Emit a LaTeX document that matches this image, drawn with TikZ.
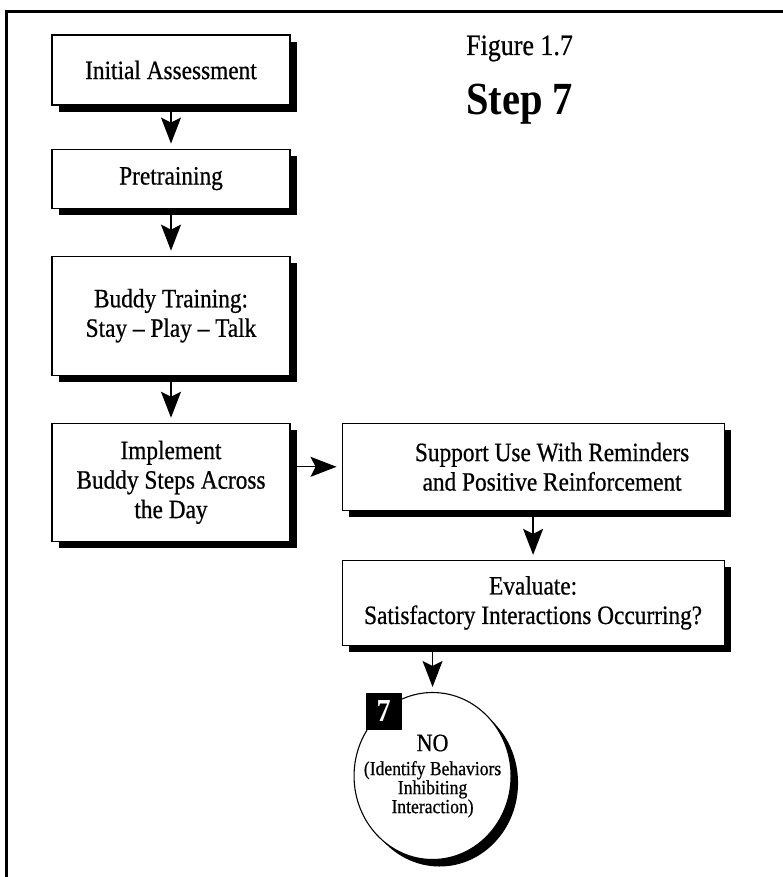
\documentclass[tikz,border=0pt]{standalone}
\usepackage{fontspec}
\setmainfont{Liberation Serif}[FakeStretch=0.88, UprightFeatures={FakeBold=0.6}]
\usepackage{tikz}
\usetikzlibrary{shapes.geometric, arrows.meta, positioning, shadows}
\tikzstyle{process} = [rectangle, minimum width=238pt, text centered, align=center, draw=black, line width=1.1pt, fill=white, drop shadow={shadow xshift=7pt, shadow yshift=-7pt, fill=black, opacity=1}, font=\fontsize{26.5}{29.5}\selectfont]
\tikzstyle{wide} = [process, minimum width=382pt]
\tikzstyle{nogoal} = [ellipse, minimum width=157pt, minimum height=167pt, inner sep=0pt, draw=black, line width=1.1pt, fill=white, drop shadow={shadow xshift=7pt, shadow yshift=-7pt, fill=black, opacity=1}]
\tikzstyle{badge} = [rectangle, fill=black, text=white, minimum width=36pt, minimum height=37pt, inner sep=0pt, font=\bfseries\fontsize{32}{32}\selectfont]
\tikzstyle{edge} = [line width=1.3pt, -{Stealth[length=26pt, width=20pt, inset=5pt]}, shorten >=5pt]

\begin{document}
\begin{tikzpicture}[x=1pt, y=1pt]
\useasboundingbox (0,0) rectangle (783,-877);

% frame
\draw [line width=3pt] (6.5,-877) -- (6.5,-11.5) -- (783,-11.5);

\node (fig) [anchor=base west, inner sep=0pt] at (466,-55) {\fontsize{29.5}{30}\selectfont Figure 1.7};
\node (step) [anchor=base west, inner sep=0pt] at (466,-115) {\bfseries\fontsize{46}{46}\selectfont Step 7};

\node (1) [process, minimum height=70pt] at (171,-70) {Initial Assessment};
\node (2) [process, minimum height=59pt, below=43pt of 1] {Pretraining};
\node (3) [process, minimum height=119pt, below=47pt of 2] {Buddy Training:\\ Stay -- Play -- Talk};
\node (4) [process, minimum height=118pt, below=47pt of 3] {Implement\\ Buddy Steps Across\\ the Day};
\node (5) [wide, minimum height=87pt, right=51pt of 4.north east, anchor=north west] {\hspace*{38pt}Support Use With Reminders\\ \hspace*{38pt}and Positive Reinforcement};
\node (6) [wide, minimum height=85pt, below=49pt of 5] {Evaluate:\\ Satisfactory Interactions Occurring?};
\node (7) [nogoal, below=46pt of 6.south west, xshift=91pt, label={[align=center, font=\fontsize{20}{19}\selectfont]center:{{\fontsize{25}{25}\selectfont NO}\\[5pt] (Identify Behaviors\\ Inhibiting\\ Interaction)}}] {};
\node (b) [badge, xshift=-49pt, yshift=64.5pt] at (7.center) {7};

\draw [edge] (1) -- (2);
\draw [edge] (2) -- (3);
\draw [edge] (3) -- (4);
\draw [edge] (4.east |- 5.west) -- (5.west);
\draw [edge] (5) -- (6);
\draw [edge] (6.south -| 7.north) -- (7.north);

\end{tikzpicture}
\end{document}
